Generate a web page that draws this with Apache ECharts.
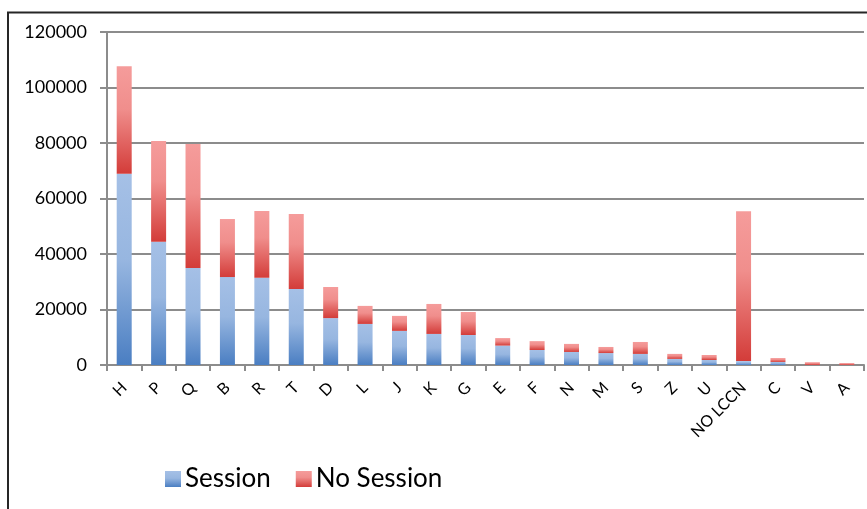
<!DOCTYPE html>
<html>
<head>
<meta charset="utf-8">
<script src="https://cdn.jsdelivr.net/npm/echarts@6/dist/echarts.min.js"></script>
<style>
html,body{margin:0;padding:0;background:#fff;}
#chart{width:867px;height:509px;}
</style>
</head>
<body>
<div id="chart"></div>
<script>
const categories = ['H','P','Q','B','R','T','D','L','J','K','G','E','F','N','M','S','Z','U','NO LCCN','C','V','A'];
const sessionValues = [68900,44400,35000,31700,31400,27400,16900,14800,12300,11200,10800,7000,5400,4700,4300,4000,2200,1800,1400,1100,0,0];
const noSessionValues = [38800,36300,44600,20900,24100,27000,11200,6500,5400,10800,8300,2700,3200,2900,2200,4300,1800,1800,54000,1400,1000,700];
const seriesNames = ['Session','No Session'];
const yMin = 0, yMax = 120000, yStep = 20000;

const blueGrad = new echarts.graphic.LinearGradient(0,0,0,1,[
  {offset:0,color:'#a5c0e6'},{offset:0.45,color:'#97b6e0'},{offset:1,color:'#4a7ec2'}]);
const redGrad = new echarts.graphic.LinearGradient(0,0,0,1,[
  {offset:0,color:'#f59c9b'},{offset:0.4,color:'#f08e8c'},{offset:1,color:'#d33c39'}]);

const chart = echarts.init(document.getElementById('chart'), null, {renderer:'canvas'});
chart.setOption({
  animation:false,
  backgroundColor:'#ffffff',
  textStyle:{fontFamily:'Lato'},
  graphic:[{
    type:'rect', silent:true, z:100,
    shape:{x:8,y:12.5,width:900,height:600},
    style:{fill:'none',stroke:'#262626',lineWidth:2}
  }],
  grid:{left:107,right:3,top:32,bottom:144,containLabel:false},
  legend:{
    data:seriesNames,
    left:160, top:461,
    icon:'rect', itemWidth:16, itemHeight:16, itemGap:25,
    textStyle:{fontFamily:'Lato',fontSize:26,color:'#000',padding:[0,0,0,-1]}
  },
  xAxis:{
    type:'category', data:categories,
    axisLine:{lineStyle:{color:'#8c8c8c',width:2}},
    axisTick:{show:true,length:6,lineStyle:{color:'#8c8c8c',width:2}},
    axisLabel:{rotate:45,margin:20,fontSize:16,color:'#000',fontFamily:'Lato',interval:0}
  },
  yAxis:{
    type:'value', min:yMin, max:yMax, interval:yStep,
    axisLine:{show:true,lineStyle:{color:'#8c8c8c',width:2}},
    axisTick:{show:true,length:7,lineStyle:{color:'#8c8c8c',width:2}},
    splitLine:{lineStyle:{color:'#8c8c8c',width:2}},
    axisLabel:{fontSize:18,color:'#000',margin:20,fontFamily:'Lato',formatter:v=>String(v)}
  },
  series:[
    {name:seriesNames[0],type:'bar',stack:'t',barWidth:15,data:sessionValues,itemStyle:{color:blueGrad}},
    {name:seriesNames[1],type:'bar',stack:'t',barWidth:15,data:noSessionValues,itemStyle:{color:redGrad}}
  ]
});
</script>
</body>
</html>
